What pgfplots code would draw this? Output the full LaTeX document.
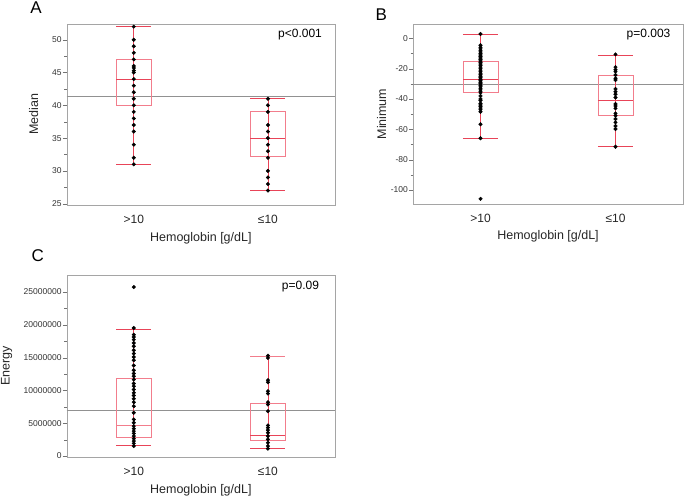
\documentclass[border=0pt]{standalone}
\usepackage{fontspec}
\setmainfont{Liberation Sans}
\usepackage{pgfplots}
\pgfplotsset{compat=1.18}
\definecolor{boxpink}{RGB}{242,125,140}
\definecolor{whiskred}{RGB}{232,68,88}
\definecolor{framegray}{RGB}{165,165,165}
\definecolor{meangray}{RGB}{145,145,145}
\pgfplotsset{
  panel/.style={
    scale only axis, width=268.3pt, height=181pt,
    xmin=-0.5, xmax=1.5, xtick={0,1}, xticklabels={{>10},{≤10}},
    axis line style={draw=framegray},
    ytick pos=left, tick align=outside,
    major tick length=4pt, minor tick length=2.5pt,
    y tick style={draw=black!55},
    x tick style={draw=none},
    minor y tick num=1,
    /pgf/number format/assume math mode=true,
    yticklabel style={font=\fontsize{8.5}{9}\selectfont, text=black!80, inner sep=1pt},
    xticklabel style={font=\fontsize{12}{13}\selectfont, text=black!85, yshift=-3pt},
    label style={font=\fontsize{12.5}{14}\selectfont, text=black!85},
    xlabel={Hemoglobin [g/dL]},
    xlabel style={at={(axis description cs:0.5,-0.182)}, anchor=center},
    clip=false,
  },
  bxs/.style={color=boxpink, line width=0.8pt, mark=none, solid},
  wks/.style={color=whiskred, line width=0.8pt, mark=none, solid},
  pts/.style={only marks, mark=*, mark size=1.8pt, color=black, mark options={fill=black, draw=black}},
  ml/.style={color=meangray, line width=0.7pt, mark=none},
}
\begin{document}
\begin{tikzpicture}
\useasboundingbox (0pt,0pt) rectangle (685pt,498pt);
% ---------------- Panel A
\begin{axis}[panel, at={(66.7pt,293pt)}, anchor=south west,
  ymin=24.8, ymax=52.4, ytick={25,30,35,40,45,50},
  ylabel={Median}, ylabel style={at={(axis description cs:-0.123,0.5)}, anchor=center}]
\addplot[ml] coordinates {(-0.5,41.3) (1.5,41.3)};
% group >10: whiskers 31/52, box 40-47, median 44
\addplot[bxs] coordinates {(-0.13,40) (0.13,40) (0.13,47) (-0.13,47) (-0.13,40)};
\addplot[wks] coordinates {(-0.13,44) (0.13,44)};
\addplot[wks] coordinates {(0,31) (0,52)};
\addplot[wks] coordinates {(-0.13,31) (0.13,31)};
\addplot[wks] coordinates {(-0.13,52) (0.13,52)};
% group <=10: whiskers 27/41, box 32.2-39, median 35
\addplot[bxs] coordinates {(0.87,32.2) (1.13,32.2) (1.13,39) (0.87,39) (0.87,32.2)};
\addplot[wks] coordinates {(0.87,35) (1.13,35)};
\addplot[wks] coordinates {(1,27) (1,41)};
\addplot[wks] coordinates {(0.87,27) (1.13,27)};
\addplot[wks] coordinates {(0.87,41) (1.13,41)};
\addplot[pts] coordinates {(0,52) (0,50) (0,49) (0,48) (0,47) (0,46) (0,45.7) (0,45.3) (0,45) (0,44) (0,43) (0,42) (0,41) (0,40) (0,39) (0,38) (0,37) (0,36) (0,34) (0,32) (0,31)};
\addplot[pts] coordinates {(1,41) (1,40) (1,39) (1,37) (1,36) (1,35) (1,34) (1,33) (1,32) (1,30) (1,29) (1,28) (1,27)};
\end{axis}
% ---------------- Panel B
\begin{axis}[panel, at={(413pt,294pt)}, anchor=south west, width=270pt, height=180pt,
  ymin=-109.2, ymax=9.4, ytick={-100,-80,-60,-40,-20,0},
  ylabel={Minimum}, ylabel style={at={(axis description cs:-0.116,0.5)}, anchor=center}]
\addplot[ml] coordinates {(-0.5,-30.3) (1.5,-30.3)};
\addplot[bxs] coordinates {(-0.13,-35.6) (0.13,-35.6) (0.13,-15.2) (-0.13,-15.2) (-0.13,-35.6)};
\addplot[wks] coordinates {(-0.13,-27) (0.13,-27)};
\addplot[wks] coordinates {(0,-65.9) (0,2.8)};
\addplot[wks] coordinates {(-0.13,-65.9) (0.13,-65.9)};
\addplot[wks] coordinates {(-0.13,2.8) (0.13,2.8)};
\addplot[bxs] coordinates {(0.87,-51) (1.13,-51) (1.13,-24.2) (0.87,-24.2) (0.87,-51)};
\addplot[wks] coordinates {(0.87,-40.7) (1.13,-40.7)};
\addplot[wks] coordinates {(1,-71.5) (1,-11)};
\addplot[wks] coordinates {(0.87,-71.5) (1.13,-71.5)};
\addplot[wks] coordinates {(0.87,-11) (1.13,-11)};
\addplot[pts] coordinates {(0,2.8) (0,-4.6) (0,-6) (0,-7) (0,-8) (0,-9) (0,-10) (0,-11) (0,-12) (0,-13) (0,-14) (0,-15) (0,-16) (0,-17) (0,-18) (0,-19) (0,-20) (0,-21) (0,-22) (0,-23) (0,-24) (0,-25) (0,-26) (0,-27) (0,-28) (0,-29) (0,-30) (0,-31) (0,-32) (0,-33) (0,-34) (0,-35) (0,-36) (0,-38) (0,-40) (0,-41) (0,-43) (0,-44) (0,-45) (0,-46) (0,-47) (0,-48.4) (0,-56.7) (0,-65.9) (0,-105.8)};
\addplot[pts] coordinates {(1,-10.6) (1,-19) (1,-20.7) (1,-22) (1,-24.2) (1,-26.4) (1,-27.5) (1,-33.4) (1,-35.2) (1,-36.9) (1,-39) (1,-43.3) (1,-44.6) (1,-46.2) (1,-49.5) (1,-51) (1,-53.2) (1,-55.4) (1,-57.8) (1,-59.8) (1,-71.5)};
\end{axis}
% ---------------- Panel C (values in millions; tick labels written out in full)
\begin{axis}[panel, at={(66.7pt,41.3pt)}, anchor=south west, height=181.7pt,
  ymin=-0.1, ymax=27.6, ytick={0,5,10,15,20,25},
  yticklabels={0,5000000,10000000,15000000,20000000,25000000},
  ylabel={Energy}, ylabel style={at={(axis description cs:-0.224,0.5)}, anchor=center}]
\addplot[ml] coordinates {(-0.5,7.0) (1.5,7.0)};
\addplot[bxs] coordinates {(-0.13,2.80) (0.13,2.80) (0.13,11.77) (-0.13,11.77) (-0.13,2.80)};
\addplot[bxs] coordinates {(-0.13,4.72) (0.13,4.72)};
\addplot[wks] coordinates {(0,1.67) (0,19.37)};
\addplot[wks] coordinates {(-0.13,1.67) (0.13,1.67)};
\addplot[wks] coordinates {(-0.13,19.37) (0.13,19.37)};
\addplot[bxs] coordinates {(0.87,2.39) (1.13,2.39) (1.13,7.97) (0.87,7.97) (0.87,2.39)};
\addplot[wks] coordinates {(0.87,3.19) (1.13,3.19)};
\addplot[wks] coordinates {(1,1.17) (1,15.20)};
\addplot[wks] coordinates {(0.87,1.17) (1.13,1.17)};
\addplot[bxs] coordinates {(0.87,15.20) (1.13,15.20)};
\addplot[pts] coordinates {(0,25.76) (0,19.52) (0,18.50) (0,18.15) (0,17.75) (0,17.24) (0,16.73) (0,16.12) (0,15.62) (0,15.10) (0,14.60) (0,13.80) (0,13.08) (0,12.58) (0,12.17) (0,11.66) (0,11.06) (0,10.65) (0,10.14) (0,9.64) (0,9.23) (0,8.73) (0,8.21) (0,7.60) (0,6.60) (0,5.58) (0,5.08) (0,4.56) (0,4.17) (0,3.80) (0,3.45) (0,3.04) (0,2.65) (0,2.28) (0,1.93) (0,1.52)};
\addplot[pts] coordinates {(1,15.30) (1,14.96) (1,11.56) (1,11.25) (1,9.88) (1,9.53) (1,8.20) (1,7.86) (1,6.84) (1,4.67) (1,4.32) (1,3.95) (1,3.55) (1,3.04) (1,2.54) (1,2.03) (1,1.52) (1,1.13)};
\end{axis}
% ---------------- Annotations
\node[font=\fontsize{17}{18}\selectfont] at (36pt,490.5pt) {A};
\node[font=\fontsize{17}{18}\selectfont] at (381.3pt,483pt) {B};
\node[font=\fontsize{17}{18}\selectfont] at (37.7pt,242.2pt) {C};
\node[font=\fontsize{12}{13}\selectfont] at (300pt,463pt) {p<0.001};
\node[font=\fontsize{12}{13}\selectfont] at (648.5pt,463pt) {p=0.003};
\node[font=\fontsize{12}{13}\selectfont] at (300.5pt,211.3pt) {p=0.09};
\end{tikzpicture}
\end{document}
